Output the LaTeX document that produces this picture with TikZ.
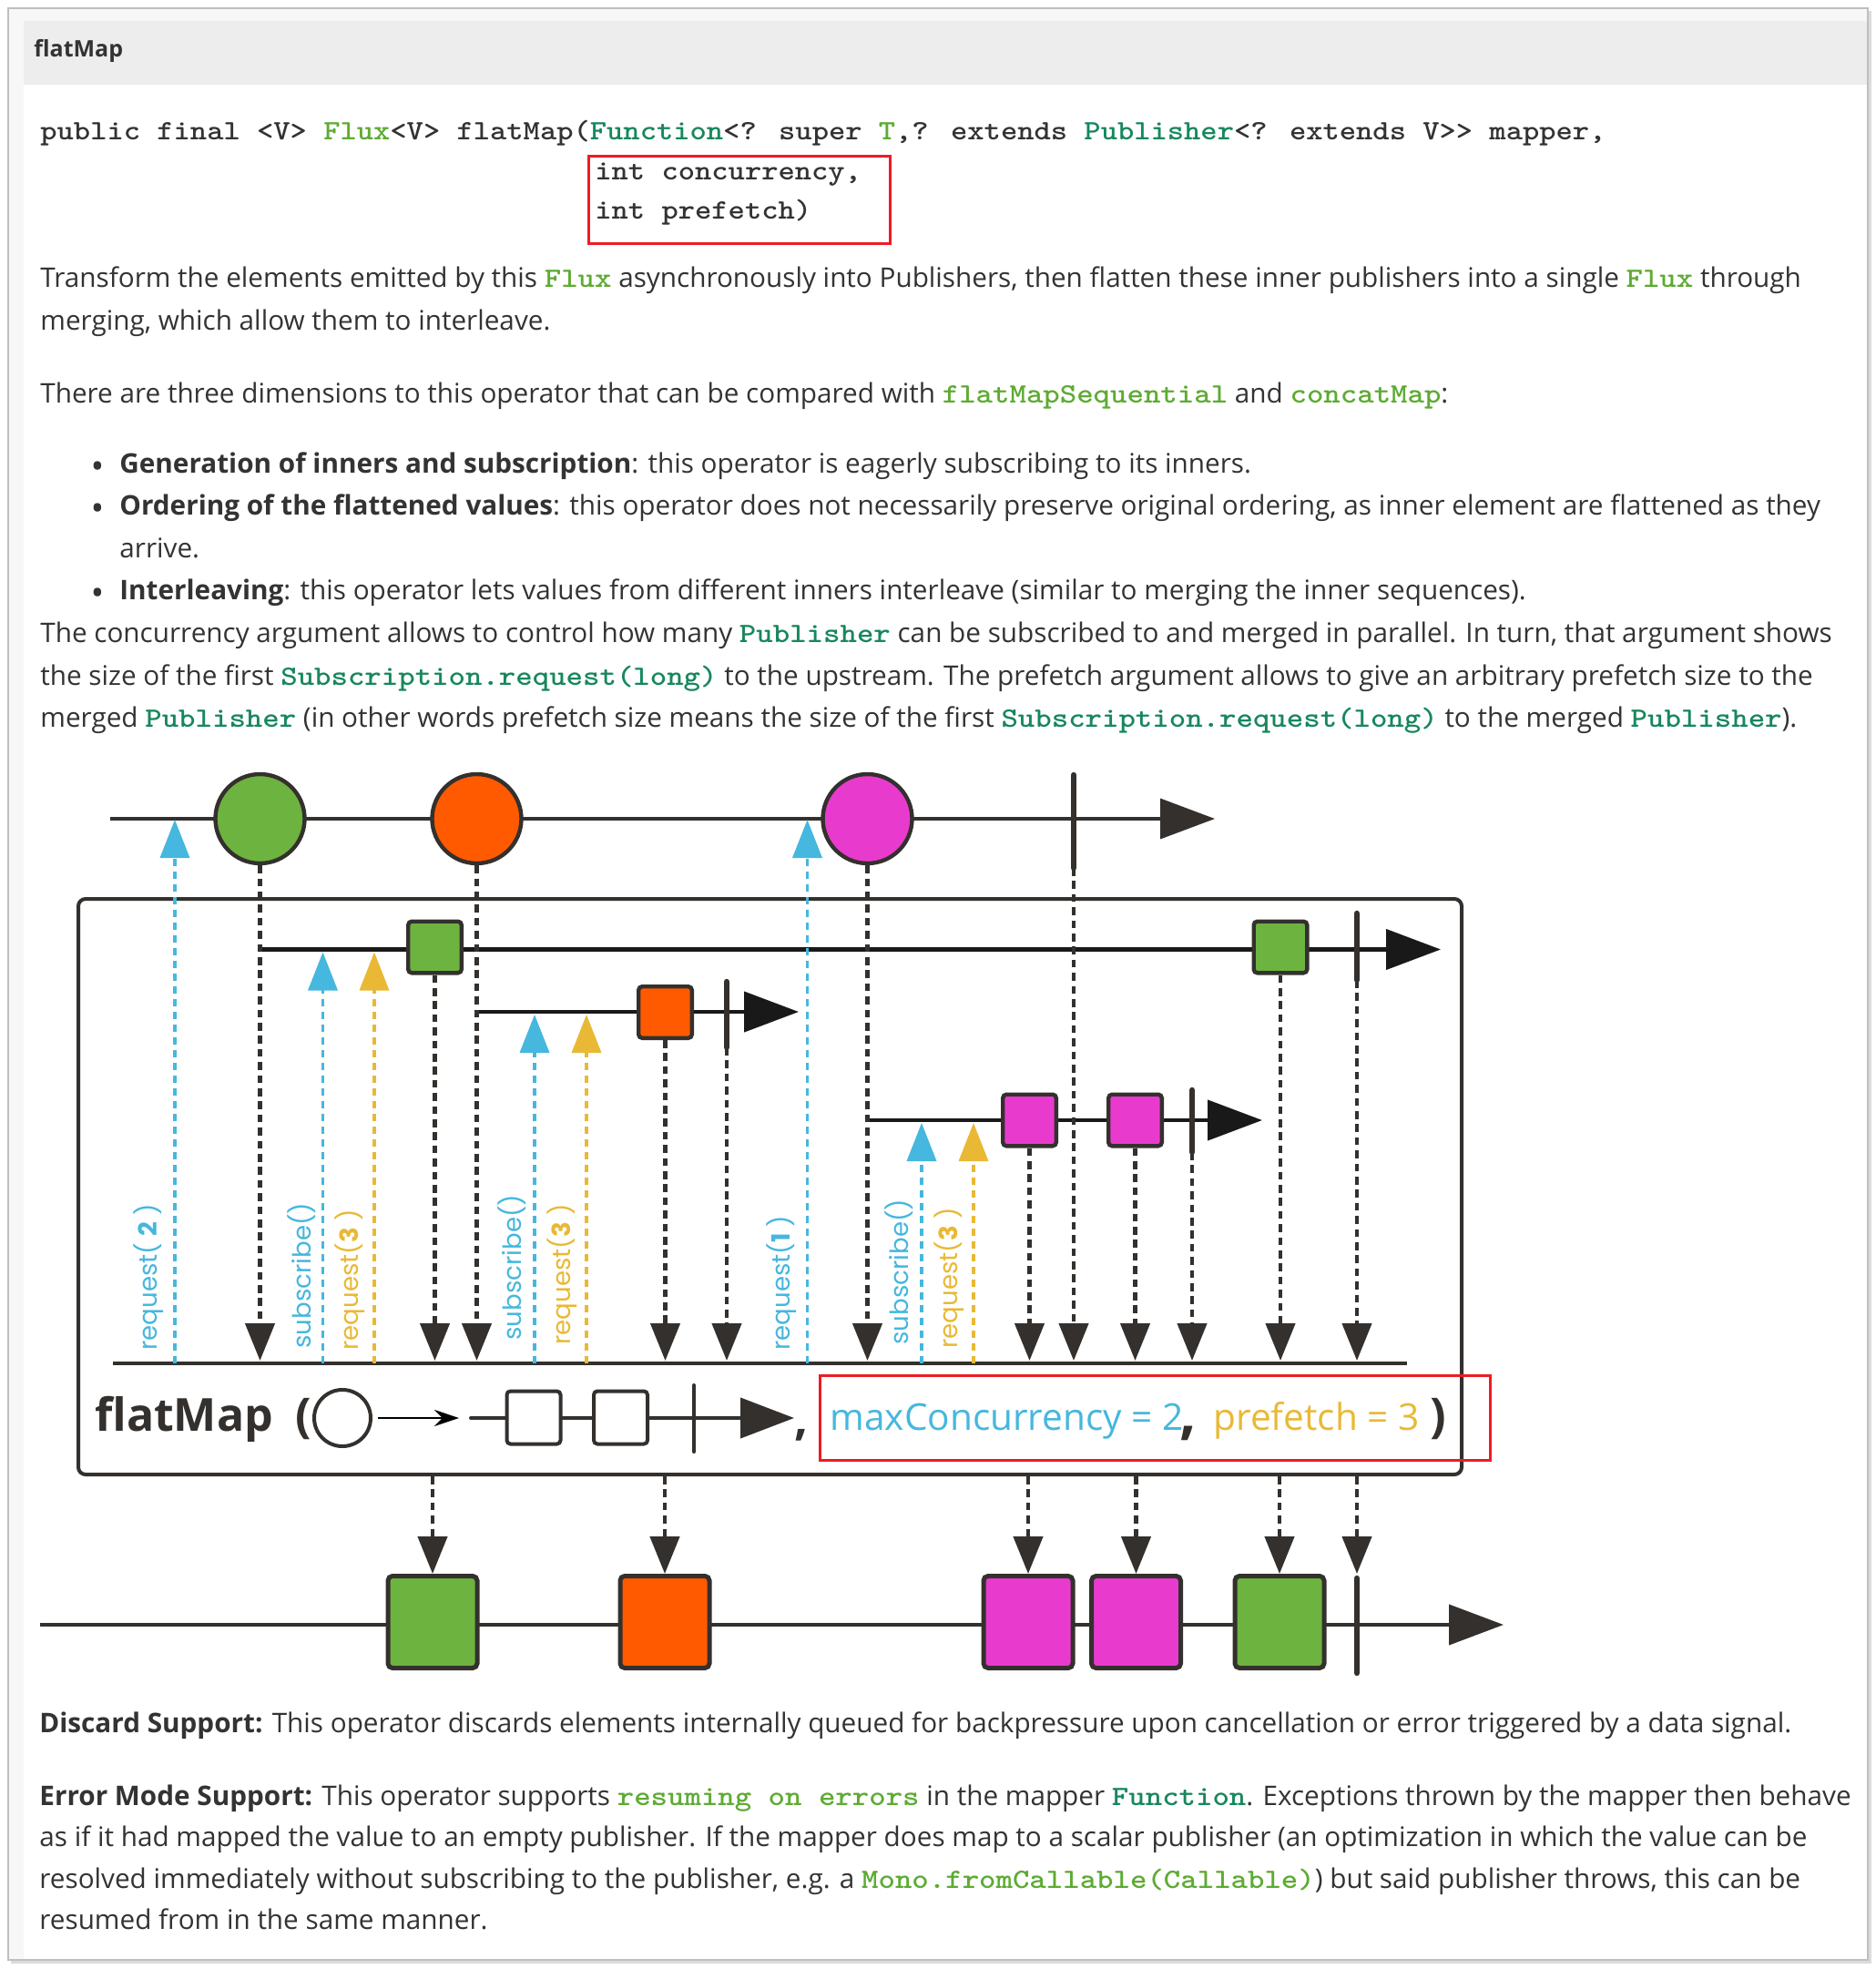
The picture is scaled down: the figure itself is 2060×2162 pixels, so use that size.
\documentclass[tikz,border=0pt]{standalone}
\usepackage{fontspec}
\setmainfont{Open Sans}
\newfontfamily\popfont{Poppins}
\usepackage{graphicx}
\usetikzlibrary{arrows.meta}
\definecolor{dk}{HTML}{33302D}
\definecolor{txt}{HTML}{333333}
\definecolor{grn}{HTML}{6DB33F}
\definecolor{org}{HTML}{FF5A00}
\definecolor{mag}{HTML}{E83BCD}
\definecolor{blu}{HTML}{46B7DE}
\definecolor{yel}{HTML}{E9B935}
\definecolor{redbox}{HTML}{EC1C24}
\definecolor{cgl}{HTML}{5EAB33}
\definecolor{cgt}{HTML}{17875D}
\definecolor{band}{HTML}{EDEDED}
\definecolor{strip}{HTML}{F7F7F7}
\newcommand\codefnt{\ttfamily\bfseries\fontsize{15.4}{16}\selectfont}
\newcommand\cg[1]{\textcolor{cgl}{\scalebox{1.14}[1]{\codefnt #1}}}
\newcommand\ct[1]{\textcolor{cgt}{\scalebox{1.14}[1]{\codefnt #1}}}
\begin{document}
\begin{tikzpicture}[x=0.5pt,y=-0.5pt,
  tx/.style={anchor=base west, inner sep=0pt, text=txt, font=\fontsize{14.85}{18}\selectfont},
  cdline/.style={anchor=base west, inner sep=0pt, text=txt},
  ln/.style={draw=dk, line width=1.75pt},
  iln/.style={draw=black!90, line width=2.1pt},
  tipR/.style={-{Triangle[length=30pt,width=22pt]}},
  dsh/.style={draw=dk, line width=2.2pt, dash pattern=on 4.3pt off 2.9pt, -{Triangle[length=20.5pt,width=16pt]}},
  bdsh/.style={draw=blu, line width=1.8pt, dash pattern=on 4pt off 3pt, -{Triangle[length=21pt,width=16pt]}},
  ydsh/.style={draw=yel, line width=1.8pt, dash pattern=on 4pt off 3pt, -{Triangle[length=21pt,width=16pt]}},
  marble/.style={circle, draw=dk, line width=2.2pt, minimum size=49pt, inner sep=0pt},
  isq/.style={rectangle, rounded corners=2pt, draw=dk, line width=2.2pt, minimum width=29.3pt, minimum height=28.3pt, inner sep=0pt},
  rsq/.style={rectangle, rounded corners=2.5pt, draw=dk, line width=2.5pt, minimum width=49pt, minimum height=50.5pt, inner sep=0pt},
  fsq/.style={rectangle, rounded corners=2pt, draw=dk, fill=white, line width=2pt, minimum width=29.5pt, minimum height=29pt, inner sep=0pt},
  endbar/.style={draw=dk, line width=3.2pt, line cap=round},
  lbl/.style={rotate=90, anchor=base west, inner sep=0pt, font=\popfont\fontsize{13.8}{14}\selectfont},
  ftx/.style={anchor=base west, inner sep=0pt},
  bul/.style={anchor=base west, inner sep=0pt, text=txt, font=\bfseries\fontsize{15}{18}\selectfont},
]
\useasboundingbox (0,0) rectangle (2060,2162);
% ---------- card ----------
\fill[black!14] (12,12) rectangle (2055,2156);
\draw[draw=black!25, line width=0.8pt, fill=white] (9,9) rectangle (2051,2152);
\fill[strip] (10,10) rectangle (2050,23);
\fill[strip] (10,23) rectangle (26,2151);
\fill[band] (26,23) rectangle (2050,93);
\node[tx, font=\bfseries\fontsize{12.5}{14}\selectfont] (hdr) at (37,63) {flatMap};
% ---------- signature ----------
\node[cdline] (code1) at (44,154) {\scalebox{1.131}[1]{\codefnt public final <V> \textcolor{cgl}{Flux}<V> flatMap(\textcolor{cgt}{Function}<? super \textcolor{cgl}{T},? extends \textcolor{cgt}{Publisher}<? extends V>{}> mapper,}};
\node[cdline] (code2) at (653,197) {\scalebox{1.131}[1]{\codefnt int concurrency,}};
\node[cdline] (code3) at (653,240) {\scalebox{1.131}[1]{\codefnt int prefetch)}};
\node[draw=redbox, line width=1.5pt, minimum width=165.5pt, minimum height=48pt, inner sep=0pt] (cbox) at (812,219.5) {};
% ---------- description ----------
\node[tx] (p1a) at (44,315) {Transform the elements emitted by this \cg{Flux} asynchronously into Publishers, then flatten these inner publishers into a single \cg{Flux} through};
\node[tx] (p1b) at (44,362) {merging, which allow them to interleave.};
\node[tx] (p2) at (44,442) {There are three dimensions to this operator that can be compared with \cg{flatMapSequential} and \cg{concatMap}:};
\node[bul] (bu1) at (101,522) {\textbullet};
\node[tx] (li1) at (131,519) {\textbf{Generation of inners and subscription}: this operator is eagerly subscribing to its inners.};
\node[bul] (bu2) at (101,568) {\textbullet};
\node[tx] (li2) at (131,565) {\textbf{Ordering of the flattened values}: this operator does not necessarily preserve original ordering, as inner element are flattened as they};
\node[tx] (li2b) at (131,612) {arrive.};
\node[bul] (bu3) at (101,661) {\textbullet};
\node[tx] (li3) at (131,658) {\textbf{Interleaving}: this operator lets values from different inners interleave (similar to merging the inner sequences).};
\node[tx] (p3a) at (44,705) {The concurrency argument allows to control how many \ct{Publisher} can be subscribed to and merged in parallel. In turn, that argument shows};
\node[tx] (p3b) at (44,752) {the size of the first \ct{Subscription.request(long)} to the upstream. The prefetch argument allows to give an arbitrary prefetch size to the};
\node[tx] (p3c) at (44,798) {merged \ct{Publisher} (in other words prefetch size means the size of the first \ct{Subscription.request(long)} to the merged \ct{Publisher}).};
% ---------- bottom text ----------
\node[tx] (d1) at (43,1902) {\textbf{Discard Support:} This operator discards elements internally queued for backpressure upon cancellation or error triggered by a data signal.};
\node[tx] (e1) at (43,1982) {\textbf{Error Mode Support:} This operator supports \cg{resuming on errors} in the mapper \ct{Function}. Exceptions thrown by the mapper then behave};
\node[tx] (e2) at (43,2027) {as if it had mapped the value to an empty publisher. If the mapper does map to a scalar publisher (an optimization in which the value can be};
\node[tx] (e3) at (43,2073) {resolved immediately without subscribing to the publisher, e.g. a \cg{Mono.fromCallable(Callable)}) but said publisher throws, this can be};
\node[tx] (e4) at (43,2118) {resumed from in the same manner.};
% ---------- marble diagram ----------
\node[draw=dk, line width=2pt, rounded corners=4pt, minimum width=759.5pt, minimum height=316pt, inner sep=0pt] (box) at (845.5,1303) {};
\coordinate (ts) at (121,899); \coordinate (te) at (1334,899);
\draw[ln, tipR] (ts) -- (te);
\coordinate (i1s) at (286,1042.5); \coordinate (i1e) at (1582,1042.5);
\coordinate (i2s) at (525,1111); \coordinate (i2e) at (877,1111);
\coordinate (i3s) at (953,1230); \coordinate (i3e) at (1386,1230);
\draw[iln, tipR] (i1s) -- (i1e);
\draw[iln, tipR] (i2s) -- (i2e);
\draw[iln, tipR] (i3s) -- (i3e);
\coordinate (bl0) at (124,1497); \coordinate (bl1) at (1545,1497);
\draw[ln, line width=2pt] (bl0) -- (bl1);
\coordinate (hit) at (0,1494);
% request / subscribe arrows
\coordinate (u1b) at (192,1497); \coordinate (u1t) at (192,900);
\coordinate (u2b) at (354.5,1497); \coordinate (u2t) at (354.5,1045.5);
\coordinate (u3b) at (411,1497); \coordinate (u3t) at (411,1045.5);
\coordinate (u4b) at (587,1497); \coordinate (u4t) at (587,1114);
\coordinate (u5b) at (644,1497); \coordinate (u5t) at (644,1114);
\coordinate (u6b) at (886.5,1497); \coordinate (u6t) at (886.5,900);
\coordinate (u7b) at (1012,1497); \coordinate (u7t) at (1012,1233);
\coordinate (u8b) at (1069,1497); \coordinate (u8t) at (1069,1233);
\draw[bdsh] (u1b) -- (u1t);
\draw[bdsh] (u2b) -- (u2t);
\draw[ydsh] (u3b) -- (u3t);
\draw[bdsh] (u4b) -- (u4t);
\draw[ydsh] (u5b) -- (u5t);
\draw[bdsh] (u6b) -- (u6t);
\draw[bdsh] (u7b) -- (u7t);
\draw[ydsh] (u8b) -- (u8t);
% labels
\node[lbl, text=blu] (lab1) at (172,1483) {request( \textbf{2} )};
\node[lbl, text=blu] (lab2) at (341,1481) {subscribe()};
\node[lbl, text=yel] (lab3) at (393,1483) {request(\textbf{3} )};
\node[lbl, text=blu] (lab4) at (572,1472) {subscribe()};
\node[lbl, text=yel] (lab5) at (626,1477) {request(\textbf{3} )};
\node[lbl, text=blu] (lab6) at (867,1483) {request(\textbf{1} )};
\node[lbl, text=blu] (lab7) at (997,1477) {subscribe()};
\node[lbl, text=yel] (lab8) at (1051,1481) {request(\textbf{3} )};
% completion bars
\coordinate (tbt) at (1179,851); \coordinate (tbb) at (1179,953);
\coordinate (ib1t) at (1490,1003); \coordinate (ib1b) at (1490,1076);
\coordinate (ib2t) at (798,1078); \coordinate (ib2b) at (798,1150);
\coordinate (ib3t) at (1309,1197); \coordinate (ib3b) at (1309,1265);
\draw[endbar] (tbt) -- (tbb);
\draw[endbar] (ib1t) -- (ib1b);
\draw[endbar] (ib2t) -- (ib2b);
\draw[endbar] (ib3t) -- (ib3b);
% marbles
\node[marble, fill=grn] (c1) at (285.5,899) {};
\node[marble, fill=org] (c2) at (523.5,899) {};
\node[marble, fill=mag] (c3) at (952.5,899) {};
\node[isq, fill=grn] (s1) at (477.5,1040) {};
\node[isq, fill=org] (s2) at (730.5,1111.5) {};
\node[isq, fill=mag] (s3) at (1130.5,1230) {};
\node[isq, fill=mag] (s4) at (1246.5,1230) {};
\node[isq, fill=grn] (s5) at (1406,1040) {};
% down arrows to the operator line
\draw[dsh] (c1.south) -- (c1.south |- hit);
\draw[dsh] (s1.south) -- (s1.south |- hit);
\draw[dsh] (c2.south) -- (c2.south |- hit);
\draw[dsh] (s2.south) -- (s2.south |- hit);
\draw[dsh] (ib2b) -- (ib2b |- hit);
\draw[dsh] (c3.south) -- (c3.south |- hit);
\draw[dsh] (s3.south) -- (s3.south |- hit);
\draw[dsh] (tbb) -- (tbb |- hit);
\draw[dsh] (s4.south) -- (s4.south |- hit);
\draw[dsh] (ib3b) -- (ib3b |- hit);
\draw[dsh] (s5.south) -- (s5.south |- hit);
\draw[dsh] (ib1b) -- (ib1b |- hit);
% operator formula
\node[ftx, text=dk, font=\bfseries\fontsize{25}{28}\selectfont] (fname) at (104,1571) {flatMap};
\node[ftx, text=dk, font=\bfseries\fontsize{26}{28}\selectfont] (fpar) at (324,1572) {(};
\node[circle, draw=dk, line width=2pt, minimum size=31pt, inner sep=0pt] (fc) at (376,1557) {};
\coordinate (fa1) at (415,1557); \coordinate (fa2) at (504,1557);
\draw[black, line width=1.3pt, -{Stealth[length=13.5pt,width=9pt]}] (fa1) -- (fa2);
\coordinate (fl1) at (517,1557); \coordinate (fl2) at (872,1557);
\draw[draw=dk, line width=2pt, line cap=round, -{Triangle[length=29.5pt,width=22pt]}] (fl1) -- (fl2);
\node[fsq] (fs1) at (586,1556.5) {};
\node[fsq] (fs2) at (681.5,1556.5) {};
\coordinate (fbt) at (762,1521); \coordinate (fbb) at (762,1594);
\draw[draw=dk, line width=2pt, line cap=round] (fbt) -- (fbb);
\node[ftx, text=dk, font=\bfseries\fontsize{26}{28}\selectfont] (cm1) at (872,1575) {,};
\node[draw=redbox, line width=1.5pt, minimum width=368pt, minimum height=46.5pt, inner sep=0pt] (prm) at (1268.5,1557) {};
\node[ftx, text=blu, font=\fontsize{20.3}{22}\selectfont] (mc) at (911,1570) {maxConcurrency = 2};
\node[ftx, text=dk, font=\bfseries\fontsize{32}{34}\selectfont] (cm2) at (1295,1573) {,};
\node[ftx, text=yel, font=\fontsize{20.3}{22}\selectfont] (pf) at (1332,1570) {prefetch = 3};
\node[ftx, text=dk, font=\bfseries\fontsize{26}{28}\selectfont] (rp) at (1570,1572) {)};
% ---------- result ----------
\coordinate (rs) at (44,1784); \coordinate (re) at (1651,1784);
\draw[ln, line width=2pt, tipR] (rs) -- (re);
\node[rsq, fill=grn] (r1) at (475,1781) {};
\node[rsq, fill=org] (r2) at (730,1781) {};
\node[rsq, fill=mag] (r3) at (1129,1781) {};
\node[rsq, fill=mag] (r4) at (1247.5,1781) {};
\node[rsq, fill=grn] (r5) at (1405,1781) {};
\coordinate (rbt) at (1490,1733); \coordinate (rbb) at (1490,1837);
\draw[endbar] (rbt) -- (rbb);
\coordinate (rbtip) at (1490,1728);
\draw[dsh] (box.south -| r1.north) -- (r1.north);
\draw[dsh] (box.south -| r2.north) -- (r2.north);
\draw[dsh] (box.south -| r3.north) -- (r3.north);
\draw[dsh] (box.south -| r4.north) -- (r4.north);
\draw[dsh] (box.south -| r5.north) -- (r5.north);
\draw[dsh] (box.south -| rbtip) -- (rbtip);
\end{tikzpicture}
\end{document}
